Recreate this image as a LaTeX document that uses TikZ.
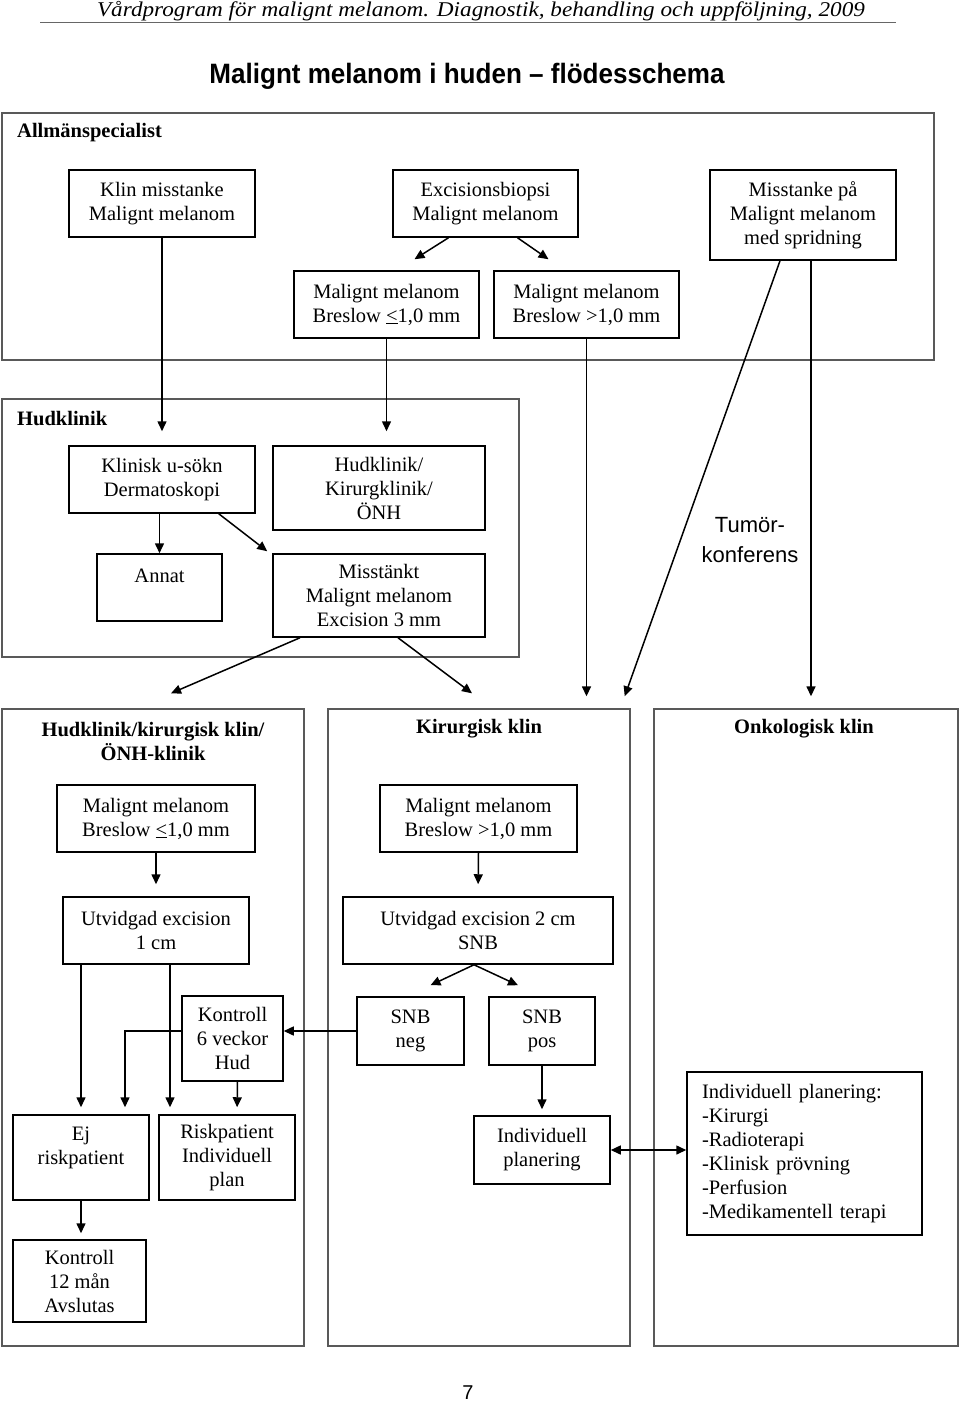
\documentclass[tikz,border=0pt]{standalone}
\usepackage{fontspec}
\setmainfont{Liberation Serif}
\setsansfont{Liberation Sans}
\usepackage{tikz}
\usetikzlibrary{arrows.meta,positioning,calc}

\begin{document}
\begin{tikzpicture}[
  x=1pt, y=-1pt,
  >={Triangle[length=10pt,width=9pt]},
  every node/.style={align=center},
  box/.style={draw, line width=1.5pt, inner sep=0pt, fill=white,
              font=\fontsize{20.5}{24}\selectfont},
  panel/.style={draw=black!65, line width=1.4pt, inner sep=0pt},
  head/.style={inner sep=0pt, font=\fontsize{20.5}{24}\selectfont\bfseries},
  arr/.style={->, line width=1.5pt},
  darr/.style={<->, line width=1.5pt}
]
\fill[white] (0,0) rectangle (960,1402);
\useasboundingbox (0,0) rectangle (960,1402);

%% Page head and title
\node[inner sep=0pt, anchor=base, font=\fontsize{21}{24}\selectfont\itshape] (hdr) at (481,17)
      {\scalebox{1.105}[1]{Vårdprogram för malignt melanom. Diagnostik, behandling och uppföljning, 2009}};
\draw[black!60, line width=1pt] (40,23) -- (896,23);
\node[inner sep=0pt, font=\sffamily\bfseries\fontsize{28}{30}\selectfont] (title) at (467,76)
      {\scalebox{0.93}[1]{Malignt melanom i huden – flödesschema}};

%% Allmänspecialist
\node[panel, minimum width=932pt, minimum height=247pt] (allm) at (468,236.5) {};
\node[head, anchor=west] (allmlbl) at (17,133) {Allmänspecialist};
\node[box, minimum width=186pt, minimum height=67pt] (klin)   at (162,203.5) {Klin misstanke\\Malignt melanom};
\node[box, minimum width=185pt, minimum height=67pt] (exc)    at (485.5,203.5) {Excisionsbiopsi\\Malignt melanom};
\node[box, minimum width=186pt, minimum height=90pt] (spridn) at (803,215) {Misstanke på\\Malignt melanom\\med spridning};
\node[box, minimum width=185pt, minimum height=67pt] (bres1)  at (386.5,304.5) {Malignt melanom\\Breslow \underline{<}1,0 mm};
\node[box, minimum width=185pt, minimum height=67pt] (bres2)  at (586.5,304.5) {Malignt melanom\\Breslow >1,0 mm};

%% Hudklinik
\node[panel, minimum width=517pt, minimum height=258pt] (hud) at (260.5,528) {};
\node[head, anchor=west] (hudlbl) at (17,419) {Hudklinik};
\node[box, minimum width=186pt, minimum height=67pt] (klinisk) at (162,479.5) {Klinisk u-sökn\\Dermatoskopi};
\node[box, minimum width=212pt, minimum height=84pt] (hkk)     at (379,488) {Hudklinik/\\Kirurgklinik/\\ÖNH};
\node[box, minimum width=125pt, minimum height=67pt] (annat)   at (159.5,587.5) {Annat\\\phantom{A}};
\node[box, minimum width=212pt, minimum height=83pt] (misst)   at (379,595.5) {Misstänkt\\Malignt melanom\\Excision 3 mm};

\node[font=\sffamily\fontsize{22}{30}\selectfont] (tumor) at (750,540) {Tumör-\\konferens};

%% Clinic panels
\node[panel, minimum width=302pt, minimum height=637pt] (hudpanel) at (153,1027.5) {};
\node[panel, minimum width=302pt, minimum height=637pt] (kirpanel) at (479,1027.5) {};
\node[panel, minimum width=304pt, minimum height=637pt] (onkpanel) at (806,1027.5) {};
\node[head] (hudpanellbl) at (153,741) {Hudklinik/kirurgisk klin/\\ÖNH-klinik};
\node[head] (kirpanellbl) at (479,729) {Kirurgisk klin};
\node[head] (onkpanellbl) at (804,729) {Onkologisk klin};

%% Left column
\node[box, minimum width=198pt, minimum height=67pt] (bres3)  at (156,818.5) {Malignt melanom\\Breslow \underline{<}1,0 mm};
\node[box, minimum width=186pt, minimum height=67pt] (utv1)   at (156,930.5) {Utvidgad excision\\1 cm};
\node[box, minimum width=101pt, minimum height=85pt] (ctrl6)  at (232.5,1038.5) {Kontroll\\6 veckor\\Hud};
\node[box, minimum width=136pt, minimum height=85pt] (ej)     at (81,1157.5) {Ej\\riskpatient\\\phantom{A}};
\node[box, minimum width=136pt, minimum height=85pt] (risk)   at (227,1157.5) {Riskpatient\\Individuell\\plan};
\node[box, minimum width=133pt, minimum height=82pt] (ctrl12) at (79.5,1281) {Kontroll\\12 mån\\Avslutas};

%% Middle column
\node[box, minimum width=197pt, minimum height=67pt] (bres4)  at (478.5,818.5) {Malignt melanom\\Breslow >1,0 mm};
\node[box, minimum width=270pt, minimum height=67pt] (utv2)   at (478,930.5) {Utvidgad excision 2 cm\\SNB};
\node[box, minimum width=107pt, minimum height=68pt] (snbneg) at (410.5,1031) {SNB\\neg};
\node[box, minimum width=106pt, minimum height=68pt] (snbpos) at (542,1031) {SNB\\pos};
\node[box, minimum width=136pt, minimum height=68pt] (indiv)  at (542,1150) {Individuell\\planering};

%% Right column
\node[box, minimum width=235pt, minimum height=163pt, align=left,
      text width=205pt, inner xsep=15pt] (plan) at (804.5,1153.5)
      {Individuell planering:\\-Kirurgi\\-Radioterapi\\-Klinisk prövning\\-Perfusion\\-Medikamentell terapi};

\node[font=\sffamily\fontsize{20}{24}\selectfont] (pnum) at (468,1393) {7};

%% Allmänspecialist arrows
\coordinate (sprout) at ($(spridn.south)+(8,0)$);
\draw[arr] ($(exc.south)+(-37,0)$) -- ($(bres1.north)+(28,-11)$);
\draw[arr] ($(exc.south)+(32,0)$)  -- ($(bres2.north)+(-38,-11)$);
\draw[arr, shorten >=14pt] (klin.south) -- (klinisk.north);
\draw[arr, shorten >=14pt] (bres1.south) -- (bres1.south |- hkk.north);
\draw[arr, shorten >=12pt] (bres2.south) -- (bres2.south |- kirpanel.north);
\draw[arr] ($(spridn.south)+(-23,0)$) -- ($(kirpanel.north east)+(-6,-12)$);
\draw[arr, shorten >=12pt] (sprout) -- (sprout |- onkpanel.north);

%% Hudklinik arrows
\draw[arr] (annat.north |- klinisk.south) -- (annat.north);
\draw[arr] ($(klinisk.south east)+(-37,0)$) -- ($(misst.north west)+(-5,-2)$);
\draw[arr] ($(misst.south)+(-79,0)$) -- ($(hudpanel.north)+(18,-15)$);
\draw[arr] ($(misst.south)+(19,0)$)  -- ($(kirpanel.north)+(-7,-15)$);

%% Left column arrows
\draw[arr, shorten >=12pt] (bres3.south) -- (utv1.north);
\draw[arr, shorten >=7pt] (utv1.south -| ej.north) -- (ej.north);
\draw[arr, shorten >=7pt] ($(utv1.south)+(14,0)$) -- ($(risk.north)+(-57,0)$);
\draw[arr] (snbneg.west) -- (snbneg.west -| ctrl6.east);
\draw[arr, shorten >=7pt] (ctrl6.west |- snbneg.west) -| ($(ej.north)+(44,0)$);
\draw[arr, shorten >=7pt] ($(ctrl6.south)+(5,0)$) -- ($(risk.north)+(10,0)$);
\draw[arr, shorten >=6pt] (ej.south) -- (ej.south |- ctrl12.north);

%% Middle column arrows
\draw[arr, shorten >=12pt] (bres4.south) -- (utv2.north);
\draw[arr] ($(utv2.south)+(-4,0)$) -- ($(snbneg.north)+(20,-11)$);
\draw[arr] ($(utv2.south)+(-4,0)$) -- ($(snbpos.north)+(-24,-11)$);
\draw[arr, shorten >=6pt] (snbpos.south) -- (indiv.north);
\draw[darr] (indiv.east) -- (indiv.east -| plan.west);

\end{tikzpicture}
\end{document}
